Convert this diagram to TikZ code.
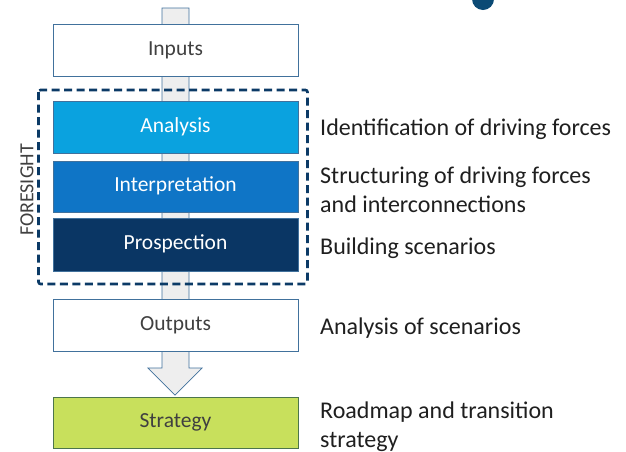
\documentclass[tikz,border=0pt]{standalone}
\usepackage{fontspec}
\setmainfont{Carlito}
\definecolor{edgeblue}{HTML}{41719C}
\definecolor{stemgray}{HTML}{EEEEEE}
\definecolor{anacol}{HTML}{0AA2DF}
\definecolor{intcol}{HTML}{0F75C6}
\definecolor{procol}{HTML}{0A3664}
\definecolor{navy}{HTML}{0B3A66}
\definecolor{stratcol}{HTML}{C8E05C}
\definecolor{txtgray}{HTML}{404040}
\definecolor{dotcol}{HTML}{0B4A75}
\begin{document}
\begin{tikzpicture}[x=1pt,y=-1pt,
  stagebox/.style={draw=edgeblue, line width=0.8pt, minimum width=245pt, minimum height=52pt, inner sep=0pt, text height=13pt, text depth=3pt, font=\fontsize{21.5}{24}\selectfont},
  sidetext/.style={anchor=west, align=left, text=black!88, font=\fontsize{24}{29}\selectfont, inner sep=0pt}]
\useasboundingbox (0,0) rectangle (626,451);
% stem arrow behind boxes
\draw[draw=edgeblue, fill=stemgray, line width=0.7pt]
  (162,8) -- (162,368) -- (148,368) -- (175,395) -- (202,368) -- (189,368) -- (189,8) -- cycle;
\node[stagebox, fill=white, text=txtgray] (inputs) at (175.5,50.5) {Inputs};
\node[stagebox, fill=anacol, text=white] (analysis) at (175.5,127) {Analysis};
\node[stagebox, fill=intcol, text=white, minimum height=51pt] (interp) at (175.5,186.5) {Interpretation};
\node[stagebox, fill=procol, text=white, minimum height=53pt] (prosp) at (175.5,244.5) {Prospection};
\node[stagebox, fill=white, text=txtgray] (outputs) at (175.5,325) {Outputs};
\node[stagebox, fill=stratcol, draw=black!60!green!40!gray, text=txtgray, minimum height=51pt] (strategy) at (175.5,422.5) {Strategy};
% foresight dashed frame
\draw[navy, line width=2.6pt, dash pattern=on 8pt off 4.5pt, rounded corners=2pt] (38.5,90) rectangle (307.5,284);
\node[rotate=90, text=txtgray, font=\fontsize{20}{22}\selectfont] (foresight) at (27,190) {FORESIGHT};
% side texts
\node[sidetext] (t1) at (320,129) {Identification of driving forces};
\node[sidetext] (t2) at (320,189.5) {Structuring of driving forces\\and interconnections};
\node[sidetext] (t3) at (320,248) {Building scenarios};
\node[sidetext] (t4) at (320,328) {Analysis of scenarios};
\node[sidetext] (t5) at (320,426.5) {Roadmap and transition\\strategy};
% dot at top
\fill[dotcol] (483,-1) circle (11);
\end{tikzpicture}
\end{document}
